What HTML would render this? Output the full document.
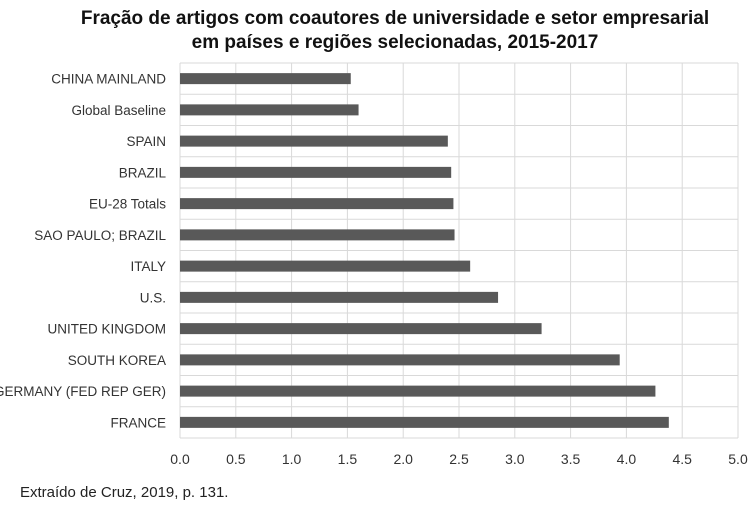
<!DOCTYPE html>
<html><head><meta charset="utf-8"><style>
body{margin:0;background:#fff;width:754px;height:505px;overflow:hidden;font-family:"Liberation Sans",sans-serif}
</style></head><body>
<svg width="754" height="505">
<text x="395" y="24" text-anchor="middle" font-size="19" font-weight="bold" fill="#111">Fração de artigos com coautores de universidade e setor empresarial</text>
<text x="395" y="48" text-anchor="middle" font-size="19" font-weight="bold" fill="#111">em países e regiões selecionadas, 2015-2017</text>
<g id="grid"></g><g id="bars"></g><g id="ylab"></g><g id="xlab"></g>
<text x="20" y="497" font-size="15" fill="#222">Extraído de Cruz, 2019, p. 131.</text>
</svg>
<script>
const categories=["CHINA MAINLAND","Global Baseline","SPAIN","BRAZIL","EU-28 Totals","SAO PAULO; BRAZIL","ITALY","U.S.","UNITED KINGDOM","SOUTH KOREA","GERMANY (FED REP GER)","FRANCE"];
const values=[1.53,1.60,2.40,2.43,2.45,2.46,2.60,2.85,3.24,3.94,4.26,4.38];
const ticks=[0,0.5,1,1.5,2,2.5,3,3.5,4,4.5,5];
const tickLabels=["0.0","0.5","1.0","1.5","2.0","2.5","3.0","3.5","4.0","4.5","5.0"];
const X0=180,X1=738,Y0=63,Y1=438;
const x=v=>X0+(v-0)/(5-0)*(X1-X0);
const step=(Y1-Y0)/categories.length;
const y=i=>Y0+step*i;
const NS="http://www.w3.org/2000/svg";
function mk(t,a,p){const e=document.createElementNS(NS,t);for(const k in a)e.setAttribute(k,a[k]);p.appendChild(e);return e;}
const g=document.getElementById('grid'),b=document.getElementById('bars'),yl=document.getElementById('ylab'),xl=document.getElementById('xlab');
ticks.forEach((t,i)=>{
 const l=mk('line',{x1:x(t),x2:x(t),y1:Y0,y2:Y1,stroke:'#d9d9d9','stroke-width':1},g);
 
 
 const tx=mk('text',{x:x(t),y:464,'text-anchor':'middle','font-size':14,fill:'#333'},xl);
 tx.textContent=tickLabels[i];
 
 
});
for(let i=0;i<=categories.length;i++){
 const l=mk('line',{x1:X0,x2:X1,y1:y(i),y2:y(i),stroke:'#d9d9d9','stroke-width':1},g);
 
 
}
categories.forEach((c,i)=>{
 const cy=y(i)+step/2;
 const r=mk('rect',{x:x(0),y:cy-5.5,width:x(values[i])-x(0),height:11,fill:'#595959'},b);
 
 
 const t=mk('text',{x:166,y:cy+5,'text-anchor':'end','font-size':13.5,fill:'#333'},yl);
 t.textContent=c;
 
 
});
</script>
</body></html>
